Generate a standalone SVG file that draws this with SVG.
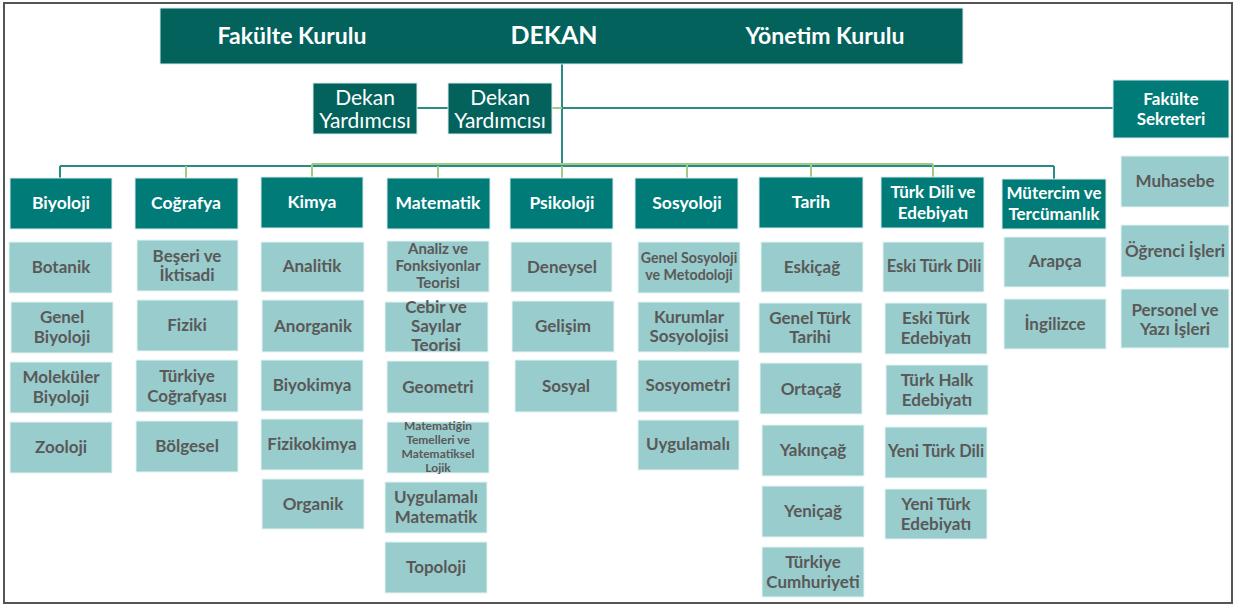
<svg xmlns="http://www.w3.org/2000/svg" width="1236" height="606" viewBox="0 0 1236 606">
<style>
.dk{fill:#03625c;stroke:#d9ecea;stroke-width:1}
.hd{fill:#007b78;stroke:#d9ecea;stroke-width:1}
.sb{fill:#99cccc;stroke:#e6f3f3;stroke-width:1}
text{font-family:Lato,"Liberation Sans",sans-serif;font-weight:700;text-anchor:middle;dominant-baseline:central}
.tw{fill:#ffffff;font-size:17.5px}
.tw2{fill:#ffffff;font-size:17px}
.tt{fill:#ffffff;font-size:23px}
.ty{fill:#ffffff;font-size:21px;font-weight:400}
.tg{fill:#595959;font-size:17px}
.tn{fill:#595959;font-size:16.5px}
.c1{stroke:#2a8a86;stroke-width:2;fill:none}
.c2{stroke:#9dcc82;stroke-width:2;fill:none}
</style>
<rect x="4" y="3" width="1228" height="600" fill="#ffffff" stroke="#555555" stroke-width="2"/>

<g id="connectors">
<line class="c1" x1="562" y1="64" x2="562" y2="166"/>
<line class="c1" x1="417" y1="108" x2="448" y2="108"/>
<line class="c2" x1="552" y1="108" x2="562" y2="108"/>
<line class="c1" x1="562" y1="108" x2="1113" y2="108"/>
<line class="c1" x1="60" y1="166" x2="1054" y2="166"/>
<line class="c2" x1="312" y1="164" x2="933" y2="164"/>
<line class="c1" x1="60" y1="166" x2="60" y2="178"/>
<line class="c2" x1="186" y1="166" x2="186" y2="178"/>
<line class="c2" x1="312" y1="164" x2="312" y2="178"/>
<line class="c2" x1="438" y1="166" x2="438" y2="178"/>
<line class="c2" x1="562" y1="166" x2="562" y2="178"/>
<line class="c2" x1="687" y1="164" x2="687" y2="178"/>
<line class="c2" x1="811" y1="164" x2="811" y2="178"/>
<line class="c2" x1="933" y1="164" x2="933" y2="178"/>
<line class="c1" x1="1054" y1="166" x2="1054" y2="179"/>
</g>

<g id="top">
<rect class="dk" x="160" y="8" width="803" height="56"/>
<text class="tt" x="292" y="35">Fakülte Kurulu</text>
<text class="tt" x="554" y="34" style="font-size:25px">DEKAN</text>
<text class="tt" x="825" y="35">Yönetim Kurulu</text>
</g>

<g id="dekan-yrd-1">
<rect class="dk" x="313" y="83" width="104" height="51"/>
<text class="ty" x="365" y="96">Dekan</text>
<text class="ty" x="365" y="119">Yardımcısı</text>
</g>
<g id="dekan-yrd-2">
<rect class="dk" x="448" y="83" width="104" height="51"/>
<text class="ty" x="500" y="96">Dekan</text>
<text class="ty" x="500" y="119">Yardımcısı</text>
</g>

<g id="fakulte-sekreteri">
<rect class="hd" x="1113" y="80" width="116" height="58"/>
<text class="tw2" x="1171" y="98">Fakülte</text>
<text class="tw2" x="1171" y="118">Sekreteri</text>
</g>
<g id="muhasebe"><rect class="sb" x="1121" y="156" width="108" height="51"/><text class="tg" x="1175" y="180">Muhasebe</text></g>
<g id="ogrenci"><rect class="sb" x="1121" y="225" width="108" height="52"/><text class="tg" x="1175" y="250">Öğrenci İşleri</text></g>
<g id="personel"><rect class="sb" x="1121" y="289" width="108" height="59"/><text class="tg" x="1175" y="309">Personel ve</text><text class="tg" x="1175" y="328">Yazı İşleri</text></g>

<!-- Biyoloji -->
<g id="biyoloji"><rect class="hd" x="10" y="178" width="102" height="51"/><text class="tw" x="61" y="202">Biyoloji</text></g>
<g id="botanik"><rect class="sb" x="9" y="242" width="103" height="51"/><text class="tg" x="61" y="266">Botanik</text></g>
<g id="genel-biyoloji"><rect class="sb" x="11" y="302" width="102" height="51"/><text class="tg" x="62" y="316">Genel</text><text class="tg" x="62" y="336">Biyoloji</text></g>
<g id="molekuler"><rect class="sb" x="10" y="362" width="102" height="51"/><text class="tg" x="61" y="376">Moleküler</text><text class="tg" x="61" y="396">Biyoloji</text></g>
<g id="zooloji"><rect class="sb" x="10" y="422" width="102" height="51"/><text class="tg" x="61" y="446">Zooloji</text></g>

<!-- Coğrafya -->
<g id="cografya"><rect class="hd" x="135" y="178" width="103" height="51"/><text class="tw" x="186" y="202">Coğrafya</text></g>
<g id="beseri"><rect class="sb" x="137" y="240" width="101" height="51"/><text class="tg" x="187" y="255">Beşeri ve</text><text class="tg" x="187" y="274">İktisadi</text></g>
<g id="fiziki"><rect class="sb" x="137" y="300" width="101" height="51"/><text class="tg" x="187" y="324">Fiziki</text></g>
<g id="turkiye-cog"><rect class="sb" x="136" y="360" width="102" height="52"/><text class="tg" x="187" y="375">Türkiye</text><text class="tg" x="187" y="395">Coğrafyası</text></g>
<g id="bolgesel"><rect class="sb" x="136" y="421" width="102" height="51"/><text class="tg" x="187" y="445">Bölgesel</text></g>

<!-- Kimya -->
<g id="kimya"><rect class="hd" x="261" y="177" width="102" height="51"/><text class="tw" x="312" y="201">Kimya</text></g>
<g id="analitik"><rect class="sb" x="261" y="242" width="103" height="50"/><text class="tg" x="312" y="265">Analitik</text></g>
<g id="anorganik"><rect class="sb" x="262" y="300" width="102" height="52"/><text class="tg" x="313" y="325">Anorganik</text></g>
<g id="biyokimya"><rect class="sb" x="261" y="360" width="102" height="51"/><text class="tg" x="312" y="384">Biyokimya</text></g>
<g id="fizikokimya"><rect class="sb" x="261" y="419" width="102" height="51"/><text class="tg" x="312" y="443">Fizikokimya</text></g>
<g id="organik"><rect class="sb" x="262" y="479" width="102" height="50"/><text class="tg" x="313" y="503">Organik</text></g>

<!-- Matematik -->
<g id="matematik"><rect class="hd" x="387" y="178" width="103" height="51"/><text class="tw" x="438" y="202">Matematik</text></g>
<g id="analiz"><rect class="sb" x="387" y="241" width="102" height="51"/><text class="tg" x="438" y="248" style="font-size:15px">Analiz ve</text><text class="tg" x="438" y="265" style="font-size:15px">Fonksiyonlar</text><text class="tg" x="438" y="282" style="font-size:15px">Teorisi</text></g>
<g id="cebir"><rect class="sb" x="385" y="302" width="103" height="50"/><text class="tg" x="436" y="306">Cebir ve</text><text class="tg" x="436" y="325">Sayılar</text><text class="tg" x="436" y="344">Teorisi</text></g>
<g id="geometri"><rect class="sb" x="387" y="361" width="102" height="52"/><text class="tg" x="438" y="386">Geometri</text></g>
<g id="temeller"><rect class="sb" x="387" y="422" width="102" height="51"/><text class="tg" x="438" y="425" style="font-size:12px">Matematiğin</text><text class="tg" x="438" y="439" style="font-size:12px">Temelleri ve</text><text class="tg" x="438" y="453" style="font-size:12px">Matematiksel</text><text class="tg" x="438" y="467" style="font-size:12px">Lojik</text></g>
<g id="uyg-mat"><rect class="sb" x="385" y="482" width="102" height="51"/><text class="tg" x="436" y="496">Uygulamalı</text><text class="tg" x="436" y="516">Matematik</text></g>
<g id="topoloji"><rect class="sb" x="385" y="542" width="102" height="51"/><text class="tg" x="436" y="566">Topoloji</text></g>

<!-- Psikoloji -->
<g id="psikoloji"><rect class="hd" x="510" y="178" width="103" height="51"/><text class="tw" x="562" y="202">Psikoloji</text></g>
<g id="deneysel"><rect class="sb" x="511" y="242" width="101" height="50"/><text class="tg" x="562" y="266">Deneysel</text></g>
<g id="gelisim"><rect class="sb" x="512" y="301" width="102" height="51"/><text class="tg" x="563" y="325">Gelişim</text></g>
<g id="sosyal"><rect class="sb" x="515" y="360" width="102" height="52"/><text class="tg" x="566" y="385">Sosyal</text></g>

<!-- Sosyoloji -->
<g id="sosyoloji"><rect class="hd" x="635" y="178" width="103" height="51"/><text class="tw" x="687" y="202">Sosyoloji</text></g>
<g id="genel-sos"><rect class="sb" x="638" y="242" width="102" height="51"/><text class="tg" x="689" y="257" style="font-size:14.2px">Genel Sosyoloji</text><text class="tg" x="689" y="274" style="font-size:14.2px">ve Metodoloji</text></g>
<g id="kurumlar"><rect class="sb" x="638" y="302" width="102" height="50"/><text class="tg" x="689" y="316">Kurumlar</text><text class="tg" x="689" y="335">Sosyolojisi</text></g>
<g id="sosyometri"><rect class="sb" x="638" y="360" width="101" height="52"/><text class="tg" x="688" y="384">Sosyometri</text></g>
<g id="uygulamali"><rect class="sb" x="638" y="420" width="101" height="50"/><text class="tg" x="688" y="443">Uygulamalı</text></g>

<!-- Tarih -->
<g id="tarih"><rect class="hd" x="759" y="177" width="104" height="51"/><text class="tw" x="811" y="201">Tarih</text></g>
<g id="eskicag"><rect class="sb" x="761" y="242" width="102" height="50"/><text class="tg" x="812" y="266">Eskiçağ</text></g>
<g id="genel-turk"><rect class="sb" x="759" y="303" width="103" height="50"/><text class="tg" x="810" y="317">Genel Türk</text><text class="tg" x="810" y="336">Tarihi</text></g>
<g id="ortacag"><rect class="sb" x="760" y="363" width="102" height="51"/><text class="tg" x="811" y="388">Ortaçağ</text></g>
<g id="yakincag"><rect class="sb" x="762" y="425" width="102" height="51"/><text class="tg" x="813" y="449">Yakınçağ</text></g>
<g id="yenicag"><rect class="sb" x="762" y="486" width="102" height="51"/><text class="tg" x="813" y="510">Yeniçağ</text></g>
<g id="tc"><rect class="sb" x="762" y="547" width="102" height="50"/><text class="tg" x="813" y="561">Türkiye</text><text class="tg" x="813" y="581">Cumhuriyeti</text></g>

<!-- Türk Dili ve Edebiyatı -->
<g id="turk-dili"><rect class="hd" x="881" y="177" width="103" height="51"/><text class="tw2" x="933" y="191">Türk Dili ve</text><text class="tw2" x="933" y="212">Edebiyatı</text></g>
<g id="eski-dil"><rect class="sb" x="883" y="242" width="101" height="50"/><text class="tn" x="934" y="266">Eski Türk Dili</text></g>
<g id="eski-ede"><rect class="sb" x="885" y="303" width="102" height="51"/><text class="tg" x="936" y="317">Eski Türk</text><text class="tg" x="936" y="337">Edebiyatı</text></g>
<g id="halk"><rect class="sb" x="886" y="365" width="102" height="50"/><text class="tg" x="937" y="379">Türk Halk</text><text class="tg" x="937" y="399">Edebiyatı</text></g>
<g id="yeni-dil"><rect class="sb" x="885" y="427" width="102" height="51"/><text class="tn" x="936" y="451">Yeni Türk Dili</text></g>
<g id="yeni-ede"><rect class="sb" x="885" y="489" width="102" height="50"/><text class="tg" x="936" y="503">Yeni Türk</text><text class="tg" x="936" y="523">Edebiyatı</text></g>

<!-- Mütercim -->
<g id="mutercim"><rect class="hd" x="1002" y="179" width="104" height="50"/><text class="tw2" x="1054" y="192">Mütercim ve</text><text class="tw2" x="1054" y="213">Tercümanlık</text></g>
<g id="arapca"><rect class="sb" x="1004" y="237" width="102" height="50"/><text class="tg" x="1055" y="260">Arapça</text></g>
<g id="ingilizce"><rect class="sb" x="1004" y="299" width="102" height="50"/><text class="tg" x="1055" y="323">İngilizce</text></g>
</svg>
